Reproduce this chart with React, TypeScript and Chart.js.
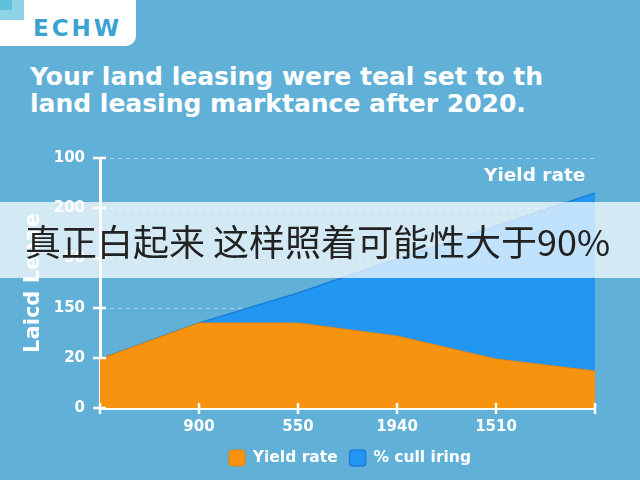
import React, { useEffect, useRef } from "react";
import { Chart, registerables } from "chart.js";

Chart.register(...registerables);

const categories = ["", "900", "550", "1940", "1510", ""];
const yieldRate = [49, 85, 85, 72, 49, 37];
const cullIring = [49, 85, 115, 149, 182, 215];
const yTickLabels = ["0", "20", "150", "50", "200", "100"];
const seriesNames = ["Yield rate", "% cull iring"];
const titleLines = ["Your land leasing were teal set to th", "land leasing marktance after 2020."];
const yAxisTitle = "Laicd Leaae";
const cornerLabel = "Yield rate";
const bannerText = "真正白起来 这样照着可能性大于90%";
const brand = "ECHW";

const WIDE = "'DejaVu Sans', sans-serif";

const crossTicks = {
  id: "crossTicks",
  afterDraw(chart: any) {
    const ctx = chart.ctx;
    const xs = chart.scales.x;
    const ys = chart.scales.y;
    ctx.save();
    ctx.strokeStyle = "#ffffff";
    ctx.lineWidth = 2.5;
    ys.ticks.forEach((_t: any, i: number) => {
      const py = ys.getPixelForTick(i);
      ctx.beginPath();
      ctx.moveTo(ys.right - 7, py);
      ctx.lineTo(ys.right + 6, py);
      ctx.stroke();
    });
    xs.ticks.forEach((_t: any, i: number) => {
      const px = xs.getPixelForTick(i);
      ctx.beginPath();
      ctx.moveTo(px, xs.top - 5);
      ctx.lineTo(px, xs.top + 6);
      ctx.stroke();
    });
    ctx.restore();
  },
};

export default function App() {
  const ref = useRef<HTMLCanvasElement | null>(null);

  useEffect(() => {
    if (!ref.current) return;
    const chart = new Chart(ref.current, {
      type: "line",
      data: {
        labels: categories,
        datasets: [
          {
            label: seriesNames[0],
            data: yieldRate,
            fill: "origin",
            backgroundColor: "#f7930f",
            borderColor: "#e8850a",
            borderWidth: 1,
            pointRadius: 0,
            tension: 0,
          },
          {
            label: seriesNames[1],
            data: cullIring,
            fill: "-1",
            backgroundColor: "#2196f3",
            borderColor: "#1a7fd6",
            borderWidth: 1.5,
            pointRadius: 0,
            tension: 0,
          },
        ],
      },
      options: {
        responsive: false,
        animation: false,
        layout: { padding: { top: 158, right: 0, left: 0, bottom: 4 } },
        plugins: {
          tooltip: { enabled: false },
          legend: {
            position: "bottom",
            labels: {
              color: "#ffffff",
              boxWidth: 16,
              boxHeight: 16,
              padding: 12,
              useBorderRadius: true,
              borderRadius: 3,
              font: { family: WIDE, size: 15.5, weight: "bold" },
            },
          },
        },
        scales: {
          x: {
            afterFit: (s: any) => {
              s.height = 30;
            },
            grid: { display: false, drawTicks: false },
            border: { display: true, color: "#ffffff", width: 3 },
            ticks: {
              color: "#ffffff",
              padding: 10,
              maxRotation: 0,
              autoSkip: false,
              font: { family: WIDE, size: 15, weight: "bold" },
            },
          },
          y: {
            min: 0,
            max: 250,
            afterFit: (s: any) => {
              s.width = 100;
            },
            grid: { color: "rgba(255,255,255,0.45)", lineWidth: 1, drawTicks: false },
            border: { display: true, color: "#ffffff", width: 3, dash: [4, 4] },
            title: {
              display: true,
              text: yAxisTitle,
              color: "#ffffff",
              padding: { top: 21, bottom: 0 },
              font: { family: WIDE, size: 21, weight: "bold" },
            },
            ticks: {
              stepSize: 50,
              color: "#ffffff",
              padding: 15,
              font: { family: WIDE, size: 15, weight: "bold" },
              callback: (_v: any, i: number) => yTickLabels[i],
            },
          },
          y2: {
            type: "linear",
            position: "right",
            display: true,
            afterFit: (s: any) => {
              s.width = 105;
            },
            grid: { display: false, drawTicks: false },
            border: { display: false },
            ticks: { display: false },
          },
        },
      },
      plugins: [crossTicks],
    });
    return () => chart.destroy();
  }, []);

  return (
    <div
      style={{
        position: "fixed",
        left: 0,
        top: 0,
        width: 640,
        height: 480,
        background: "#60b0d8",
        overflow: "hidden",
        fontFamily: WIDE,
      }}
    >
      <div style={{ position: "absolute", left: 0, top: 0, width: 136, height: 46, background: "#ffffff", borderBottomRightRadius: 10 }} />
      <div style={{ position: "absolute", left: 0, top: 0, width: 24, height: 20, background: "#8fd3e8" }} />
      <div style={{ position: "absolute", left: 0, top: 0, width: 12, height: 10, background: "#5fc1de" }} />
      <div
        style={{
          position: "absolute",
          left: 33,
          top: 14,
          fontSize: 23,
          fontWeight: 700,
          color: "#3aa3d2",
          letterSpacing: 3,
          lineHeight: "28px",
        }}
      >
        {brand}
      </div>
      <div
        style={{
          position: "absolute",
          left: 30,
          top: 63,
          fontSize: 25,
          fontWeight: 700,
          color: "#ffffff",
          lineHeight: "27px",
          whiteSpace: "nowrap",
        }}
      >
        {titleLines.map((l, i) => (
          <div key={i}>{l}</div>
        ))}
      </div>
      <canvas ref={ref} width={700} height={480} style={{ position: "absolute", left: 0, top: 0 }} />
      <div
        style={{
          position: "absolute",
          left: 484,
          top: 164,
          fontSize: 18.5,
          fontWeight: 700,
          color: "#ffffff",
          lineHeight: "22px",
          whiteSpace: "nowrap",
        }}
      >
        {cornerLabel}
      </div>
      <div
        style={{
          position: "absolute",
          left: 0,
          top: 202,
          width: 640,
          height: 76,
          background: "rgba(255,255,255,0.72)",
        }}
      />
      <div
        style={{
          position: "absolute",
          left: 25,
          top: 202,
          height: 76,
          lineHeight: "76px",
          fontSize: 36,
          color: "#222222",
          fontFamily: "'Noto Sans CJK SC', sans-serif",
          whiteSpace: "nowrap",
        }}
      >
        {bannerText}
      </div>
    </div>
  );
}
